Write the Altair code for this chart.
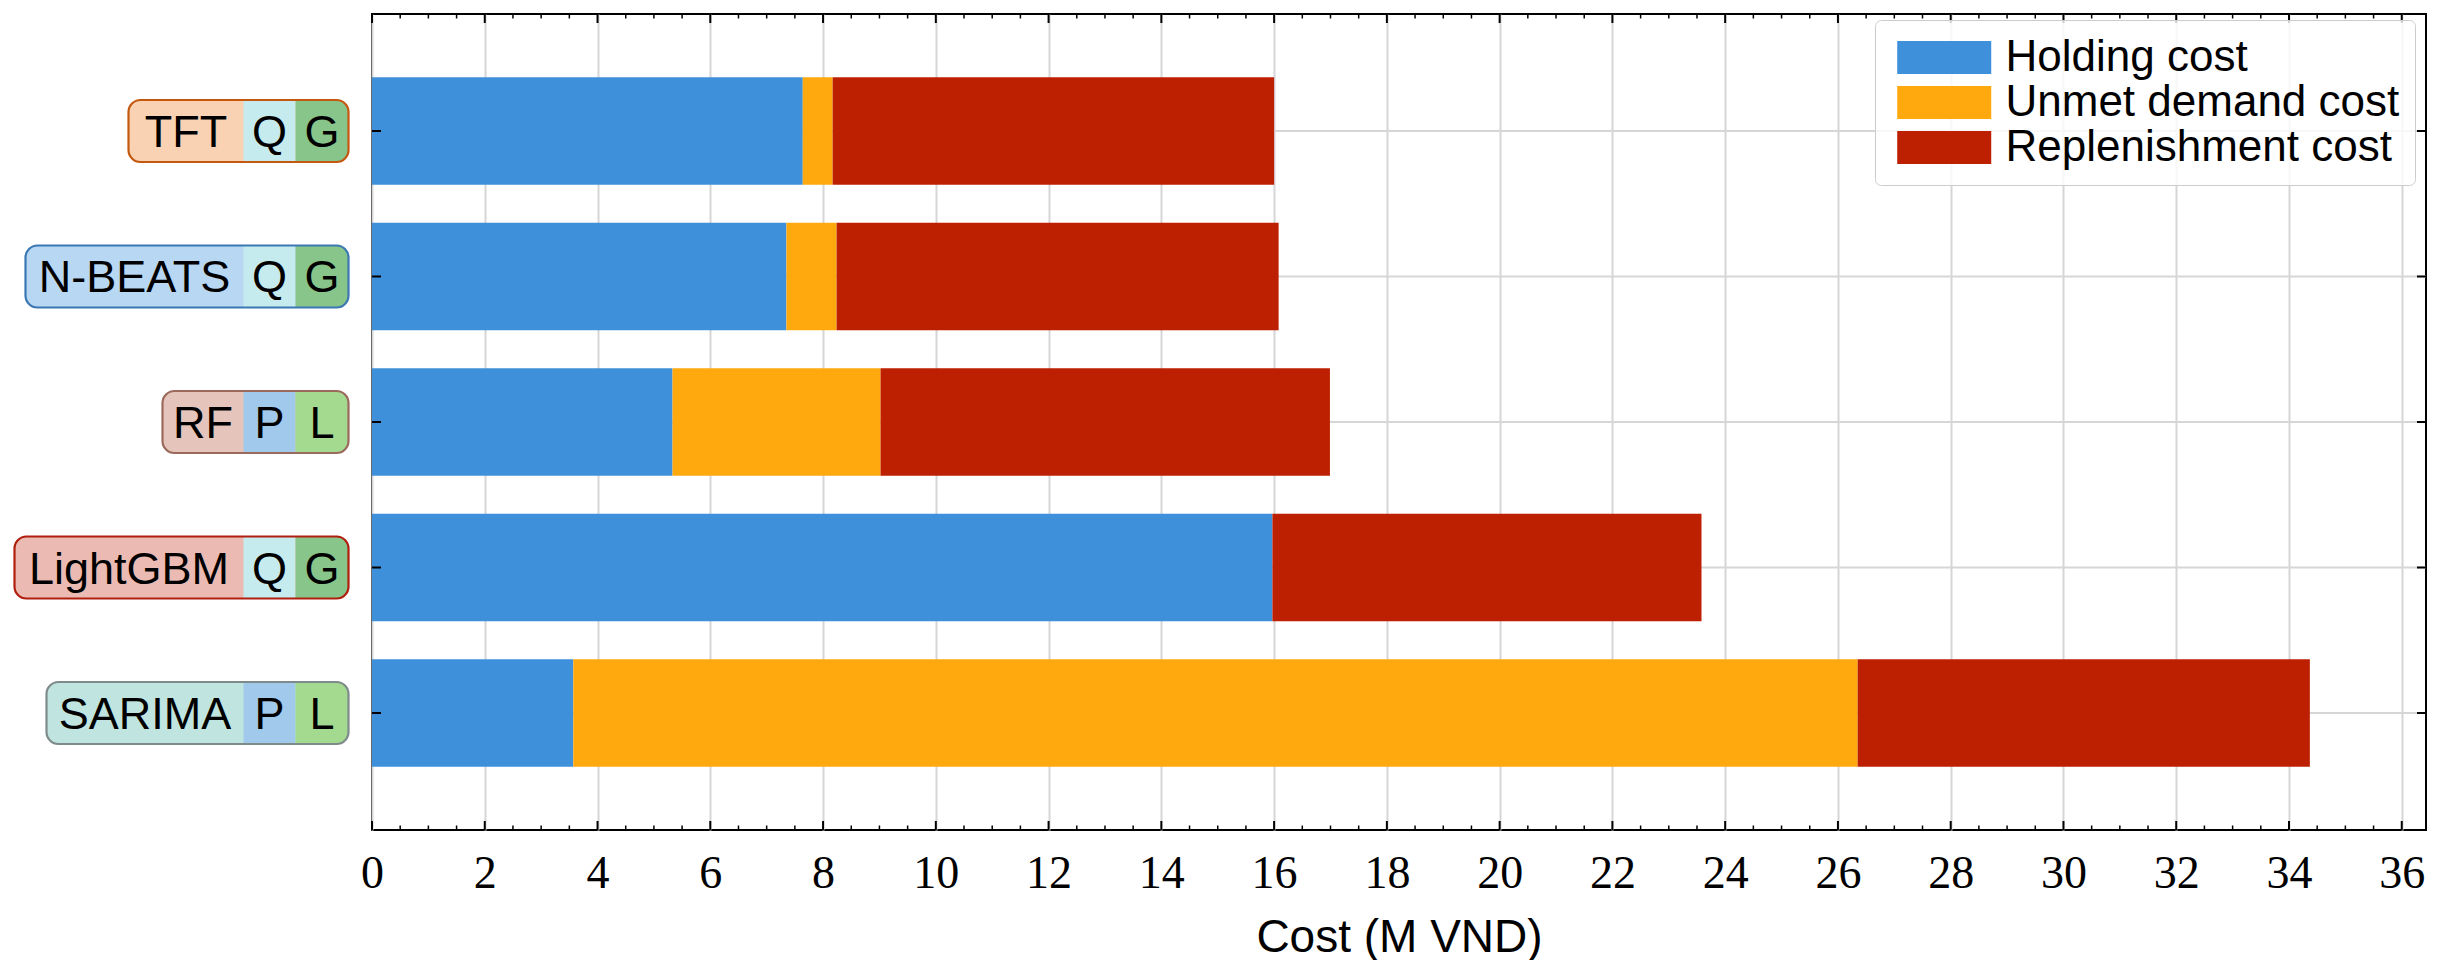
import altair as alt
import pandas as pd

# ---------------- data ----------------
models = ["TFT", "N-BEATS", "RF", "LightGBM", "SARIMA"]
holding_cost = [7.64, 7.35, 5.33, 15.97, 3.57]
unmet_demand_cost = [0.53, 0.89, 3.69, 0.0, 22.78]
replenishment_cost = [7.83, 7.84, 7.97, 7.61, 8.02]
cost_types = ["Holding cost", "Unmet demand cost", "Replenishment cost"]
tag_mid = ["Q", "Q", "P", "Q", "P"]
tag_end = ["G", "G", "L", "G", "L"]
x_major_ticks = list(range(0, 37, 2))
x_minor_ticks = [v / 2 for v in range(0, 73) if v % 4 != 0]

# ---------------- styles ----------------
BAR_COLORS = ["#3F90DA", "#FFA90E", "#BD1F01"]
NAME_BOX_W = {"TFT": 115, "N-BEATS": 218, "RF": 81, "LightGBM": 229, "SARIMA": 197}
MID_W, END_W = 52, 53
NAME_BG = {"TFT": "#F8D2B3", "N-BEATS": "#B8D7F2", "RF": "#E5C4BB",
           "LightGBM": "#EBBBB3", "SARIMA": "#C0E5E1"}
BORDER = {"TFT": "#C4580F", "N-BEATS": "#3B78B3", "RF": "#9C6A5C",
          "LightGBM": "#B01E0E", "SARIMA": "#7F8A8A"}
TAG_BG = {"Q": "#C6EBEE", "P": "#A0C9EC", "G": "#88C58A", "L": "#A4DA8F"}
W, H = 2054, 816
SANS = "Liberation Sans"
SERIF = "Liberation Serif"
GRID = "#d6d6d6"

# ---------------- tables ----------------
rows = []
for i, m in enumerate(models):
    for k, (ct, vals) in enumerate(zip(cost_types, [holding_cost, unmet_demand_cost, replenishment_cost])):
        rows.append({"model": m, "cost": ct, "value": vals[i], "order": k})
bars_df = pd.DataFrame(rows)

lab_rows = []
for i, m in enumerate(models):
    left = -(NAME_BOX_W[m] + MID_W + END_W)
    mid_l = -(MID_W + END_W)
    end_l = -END_W
    lab_rows.append({
        "model": m, "left": left, "mid_l": mid_l, "end_l": end_l, "right": 0,
        "name_c": (left + mid_l) / 2, "mid_c": (mid_l + end_l) / 2, "end_c": end_l / 2,
        "name_bg": NAME_BG[m], "border": BORDER[m],
        "mid": tag_mid[i], "end": tag_end[i],
        "mid_bg": TAG_BG[tag_mid[i]], "end_bg": TAG_BG[tag_end[i]],
    })
lab_df = pd.DataFrame(lab_rows)

tick_rows = [{"value": v, "kind": "major"} for v in x_major_ticks] + \
            [{"value": v, "kind": "minor"} for v in x_minor_ticks]
ticks_df = pd.DataFrame(tick_rows)

# ---------------- encodings ----------------
band = alt.Scale(paddingInner=0.262, paddingOuter=0.435)
y_enc = alt.Y("model:N", sort=models, scale=band, axis=None)
y_plain = alt.Y("model:N", sort=models, axis=None)

def xscale():
    return alt.Scale(domain=[0, 36.43], nice=False, zero=False)

# legend symbol: wide rectangle (94 x 33 px), drawn from a small base size
SYM_SIZE = 23.5 ** 2
legend = alt.Legend(
    orient="none", legendX=1503, legendY=6, title=None,
    symbolType="M-1.3,-1.404L6.7,-1.404L6.7,1.404L-1.3,1.404Z",
    symbolSize=SYM_SIZE, symbolStrokeWidth=0, symbolOpacity=1,
    labelFont=SANS, labelFontSize=44, labelColor="black", labelOffset=71,
    rowPadding=1, padding=15.5, strokeColor="#cccccc", fillColor="rgba(255,255,255,0.8)",
    cornerRadius=6, labelLimit=1000,
)

ygrid = alt.Chart(lab_df).mark_rule(color=GRID, strokeWidth=2).encode(
    y=y_enc, x=alt.value(0), x2=alt.value(W))

bars = alt.Chart(bars_df).mark_bar().encode(
    x=alt.X("value:Q", stack="zero", scale=xscale(),
            axis=alt.Axis(values=x_major_ticks, labelFont=SERIF, labelFontSize=46,
                          labelColor="black", ticks=False, tickSize=0, domain=False,
                          grid=True, gridColor=GRID, gridWidth=2, labelPadding=21,
                          labelFlush=False, labelOverlap=False,
                          title="Cost (M VND)", titleFont=SANS, titleFontSize=46,
                          titleFontWeight="normal", titleColor="black", titlePadding=19)),
    y=y_plain,
    color=alt.Color("cost:N", scale=alt.Scale(domain=cost_types, range=BAR_COLORS),
                    legend=legend),
    order=alt.Order("order:Q"),
)

def xtick_layer(kind, length, width, top):
    base = alt.Chart(ticks_df).transform_filter(alt.datum.kind == kind)
    if top:
        yv, y2v = 0, length
    else:
        yv, y2v = H, H - length
    return base.mark_rule(color="black", strokeWidth=width).encode(
        x=alt.X("value:Q", scale=xscale(), axis=None),
        y=alt.value(yv), y2=alt.value(y2v))

ytick_left = alt.Chart(lab_df).mark_rule(color="black", strokeWidth=2).encode(
    y=y_plain, x=alt.value(0), x2=alt.value(9))
ytick_right = alt.Chart(lab_df).mark_rule(color="black", strokeWidth=2).encode(
    y=y_plain, x=alt.value(W - 9), x2=alt.value(W))

# ---------------- label boxes ----------------
def lscale():
    return alt.Scale(domain=[-340, 0], range=[-363.5, -23.5], nice=False, zero=False)

lbase = alt.Chart(lab_df)
box_fill = lbase.mark_bar(size=62, cornerRadius=12).encode(
    x=alt.X("left:Q", scale=lscale(), axis=None), x2="right:Q", y=y_plain,
    fill=alt.Fill("name_bg:N", scale=None))
mid_box = lbase.mark_bar(size=62).encode(
    x=alt.X("mid_l:Q", scale=lscale(), axis=None), x2="end_l:Q", y=y_plain,
    fill=alt.Fill("mid_bg:N", scale=None))
end_box = lbase.mark_bar(size=62, cornerRadiusTopRight=12, cornerRadiusBottomRight=12).encode(
    x=alt.X("end_l:Q", scale=lscale(), axis=None), x2="right:Q", y=y_plain,
    fill=alt.Fill("end_bg:N", scale=None))
box_stroke = lbase.mark_bar(size=62, cornerRadius=12, fillOpacity=0, strokeWidth=2.2).encode(
    x=alt.X("left:Q", scale=lscale(), axis=None), x2="right:Q", y=y_plain,
    stroke=alt.Stroke("border:N", scale=None))
txt_kw = dict(font=SANS, fontSize=45, color="black", baseline="middle", align="center", dy=2)
name_txt = lbase.mark_text(**txt_kw).encode(
    x=alt.X("name_c:Q", scale=lscale(), axis=None), y=y_plain, text="model:N")
mid_txt = lbase.mark_text(**txt_kw).encode(
    x=alt.X("mid_c:Q", scale=lscale(), axis=None), y=y_plain, text="mid:N")
end_txt = lbase.mark_text(**txt_kw).encode(
    x=alt.X("end_c:Q", scale=lscale(), axis=None), y=y_plain, text="end:N")

chart = alt.layer(
    ygrid, bars,
    xtick_layer("major", 9, 2, False), xtick_layer("minor", 4.5, 1.5, False),
    xtick_layer("major", 9, 2, True), xtick_layer("minor", 4.5, 1.5, True),
    ytick_left, ytick_right,
    box_fill, mid_box, end_box, box_stroke, name_txt, mid_txt, end_txt,
).resolve_scale(x="independent").properties(
    width=W, height=H
).configure(background="white").configure_view(stroke="black", strokeWidth=2)

chart.save("out.html", embed_options={"renderer": "svg", "actions": False})
